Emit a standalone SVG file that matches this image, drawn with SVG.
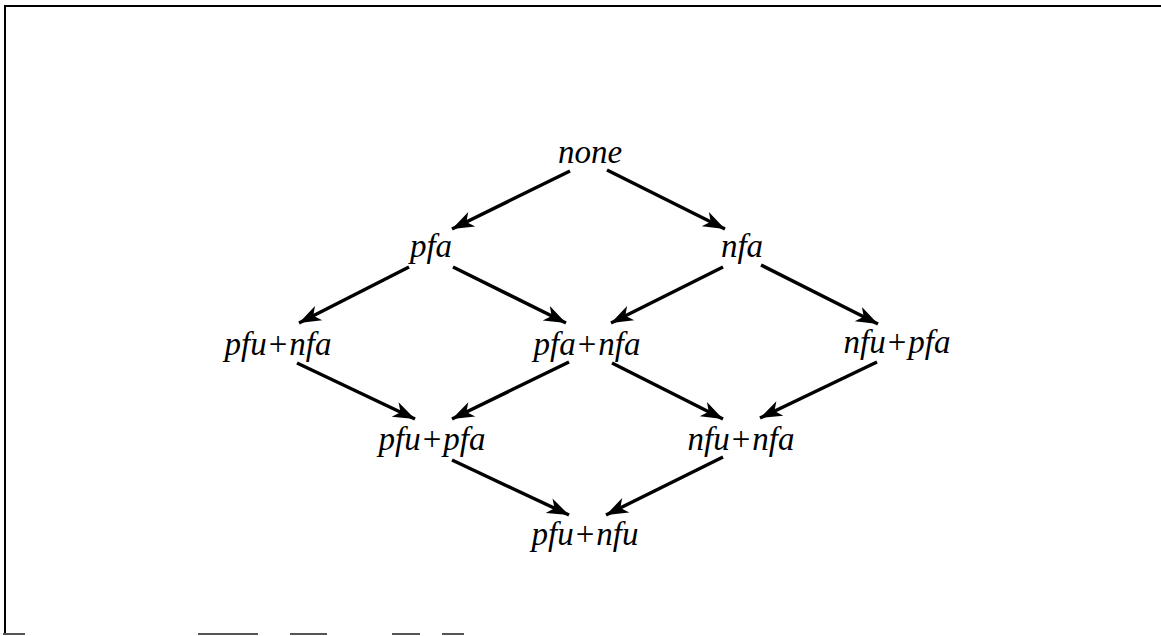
<svg xmlns="http://www.w3.org/2000/svg" width="1161" height="636" viewBox="0 0 1161 636">
<style>
.lbl{font-family:"Liberation Serif","DejaVu Serif",serif;font-style:italic;font-size:33px;fill:#000;text-anchor:middle}
.op{font-style:normal}
.edge{stroke:#000;stroke-width:3.4;fill:none;marker-end:url(#ah)}
.frame{stroke:#000;stroke-width:2;fill:none}
.faint{stroke:#555;stroke-width:2;fill:none}
</style>
<defs>
<marker id="ah" markerUnits="userSpaceOnUse" markerWidth="24" markerHeight="16" refX="22" refY="8" orient="auto" overflow="visible">
<path d="M22,8 L0,0 L6,8 L0,16 Z" fill="#000"/>
</marker>
</defs>
<rect width="1161" height="636" fill="#fff"/>
<g id="frame">
<path class="frame" d="M5,634 L5,6 L1161,6"/>
<path class="faint" d="M3,634 L25,634 M198,634 L258,634 M290,634 L327,634 M392,634 L420,634 M442,634 L464,634"/>
</g>
<g id="connectors">
<line class="edge" x1="570" y1="171" x2="452" y2="229"/>
<line class="edge" x1="607" y1="170" x2="725" y2="229"/>
<line class="edge" x1="409" y1="267" x2="299" y2="323"/>
<line class="edge" x1="453" y1="267" x2="566" y2="323"/>
<line class="edge" x1="723" y1="267" x2="611" y2="323"/>
<line class="edge" x1="761" y1="265" x2="878" y2="324"/>
<line class="edge" x1="297" y1="363" x2="415" y2="419"/>
<line class="edge" x1="569" y1="362" x2="452" y2="419"/>
<line class="edge" x1="612" y1="363" x2="723" y2="419"/>
<line class="edge" x1="877" y1="362" x2="760" y2="418"/>
<line class="edge" x1="452" y1="460" x2="569" y2="515"/>
<line class="edge" x1="723" y1="457" x2="606" y2="515"/>
</g>
<g id="n-none"><text class="lbl" x="590" y="163">none</text></g>
<g id="n-pfa"><text class="lbl" x="431" y="257">pfa</text></g>
<g id="n-nfa"><text class="lbl" x="742" y="257">nfa</text></g>
<g id="n-pfu-nfa"><text class="lbl" x="278" y="355">pfu<tspan class="op" dx="2">+</tspan><tspan dx="2">nfa</tspan></text></g>
<g id="n-pfa-nfa"><text class="lbl" x="587" y="355">pfa<tspan class="op" dx="2">+</tspan><tspan dx="2">nfa</tspan></text></g>
<g id="n-nfu-pfa"><text class="lbl" x="897" y="353">nfu<tspan class="op" dx="2">+</tspan><tspan dx="2">pfa</tspan></text></g>
<g id="n-pfu-pfa"><text class="lbl" x="432" y="450">pfu<tspan class="op" dx="2">+</tspan><tspan dx="2">pfa</tspan></text></g>
<g id="n-nfu-nfa"><text class="lbl" x="741" y="450">nfu<tspan class="op" dx="2">+</tspan><tspan dx="2">nfa</tspan></text></g>
<g id="n-pfu-nfu"><text class="lbl" x="585" y="545">pfu<tspan class="op" dx="2">+</tspan><tspan dx="2">nfu</tspan></text></g>
</svg>
